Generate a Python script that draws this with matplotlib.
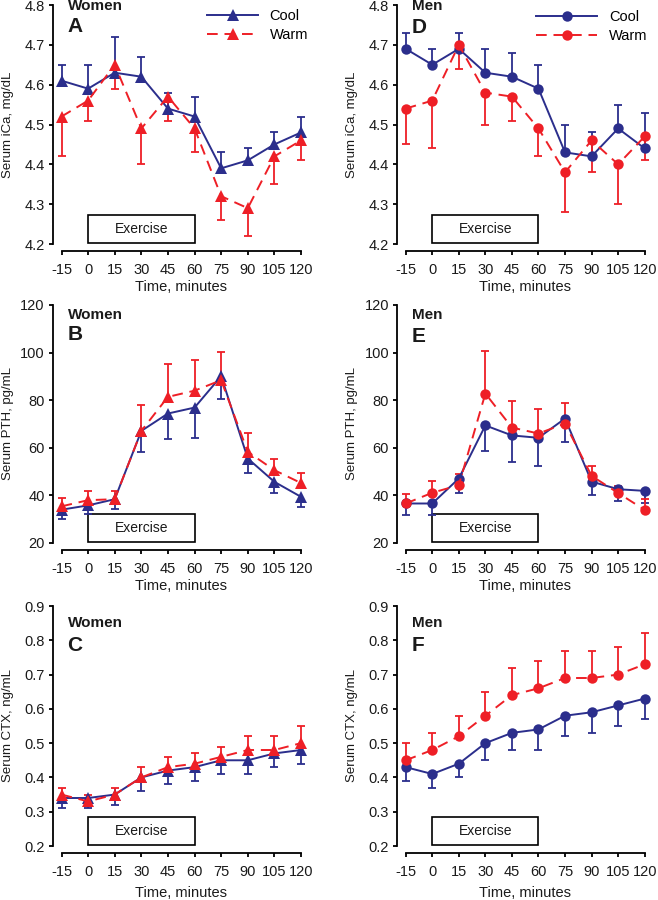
import matplotlib
matplotlib.use("Agg")
import matplotlib.pyplot as plt
from matplotlib.patches import Rectangle
import numpy as np

plt.rcParams['font.family'] = ['Liberation Sans', 'DejaVu Sans']

time = [-15, 0, 15, 30, 45, 60, 75, 90, 105, 120]
time_labels = ["-15", "0", "15", "30", "45", "60", "75", "90", "105", "120"]

# Panel A: Women, serum iCa
ica_w_cool = [4.61, 4.59, 4.63, 4.62, 4.54, 4.52, 4.39, 4.41, 4.45, 4.48]
ica_w_cool_se = [0.04, 0.06, 0.09, 0.05, 0.04, 0.05, 0.04, 0.03, 0.03, 0.04]
ica_w_warm = [4.52, 4.56, 4.65, 4.49, 4.57, 4.49, 4.32, 4.29, 4.42, 4.46]
ica_w_warm_se = [0.10, 0.05, 0.06, 0.09, 0.06, 0.06, 0.06, 0.07, 0.07, 0.05]

# Panel D: Men, serum iCa
ica_m_cool = [4.69, 4.65, 4.69, 4.63, 4.62, 4.59, 4.43, 4.42, 4.49, 4.44]
ica_m_cool_se = [0.04, 0.04, 0.04, 0.06, 0.06, 0.06, 0.07, 0.06, 0.06, 0.09]
ica_m_warm = [4.54, 4.56, 4.70, 4.58, 4.57, 4.49, 4.38, 4.46, 4.40, 4.47]
ica_m_warm_se = [0.09, 0.12, 0.06, 0.08, 0.06, 0.07, 0.10, 0.08, 0.10, 0.06]

# Panel B: Women, serum PTH
pth_w_cool = [34.0, 35.8, 38.4, 67.1, 74.4, 76.9, 90.1, 55.5, 45.7, 39.4]
pth_w_cool_se = [3.8, 3.5, 4.0, 8.8, 10.5, 12.6, 9.8, 5.9, 4.9, 4.3]
pth_w_warm = [35.4, 38.0, 38.4, 67.1, 81.4, 84.0, 88.4, 58.3, 50.6, 45.2]
pth_w_warm_se = [3.5, 3.7, 3.3, 10.8, 13.8, 13.1, 11.7, 8.0, 4.9, 4.4]

# Panel E: Men, serum PTH
pth_m_cool = [36.6, 36.6, 47.1, 69.4, 65.2, 64.2, 72.3, 45.8, 42.6, 41.9]
pth_m_cool_se = [4.7, 4.7, 6.1, 10.8, 11.1, 11.9, 9.9, 5.6, 4.8, 4.9]
pth_m_warm = [36.6, 41.1, 44.3, 82.8, 68.5, 66.0, 70.2, 48.2, 41.0, 33.9]
pth_m_warm_se = [4.1, 5.0, 4.9, 17.8, 11.1, 10.4, 8.7, 4.2, 3.0, 4.5]

# Panel C: Women, serum CTX
ctx_w_cool = [0.34, 0.34, 0.35, 0.40, 0.42, 0.43, 0.45, 0.45, 0.47, 0.48]
ctx_w_cool_se = [0.03, 0.03, 0.03, 0.04, 0.04, 0.04, 0.04, 0.04, 0.04, 0.04]
ctx_w_warm = [0.35, 0.33, 0.35, 0.40, 0.43, 0.44, 0.46, 0.48, 0.48, 0.50]
ctx_w_warm_se = [0.02, 0.02, 0.02, 0.03, 0.03, 0.03, 0.03, 0.04, 0.04, 0.05]

# Panel F: Men, serum CTX
ctx_m_cool = [0.43, 0.41, 0.44, 0.50, 0.53, 0.54, 0.58, 0.59, 0.61, 0.63]
ctx_m_cool_se = [0.04, 0.04, 0.04, 0.05, 0.05, 0.06, 0.06, 0.06, 0.06, 0.06]
ctx_m_warm = [0.45, 0.48, 0.52, 0.58, 0.64, 0.66, 0.69, 0.69, 0.70, 0.73]
ctx_m_warm_se = [0.05, 0.05, 0.06, 0.07, 0.08, 0.08, 0.08, 0.08, 0.08, 0.09]

ica_ticks = [4.2, 4.3, 4.4, 4.5, 4.6, 4.7, 4.8]
pth_ticks = [20, 40, 60, 80, 100, 120]
ctx_ticks = [0.2, 0.3, 0.4, 0.5, 0.6, 0.7, 0.8, 0.9]

BLUE = '#2b2e8c'
RED = '#ee1f26'
TXT = '#1a1a1a'

fig = plt.figure(figsize=(6.58, 9.0), dpi=100)

colL, wL = 61.5 / 658, 239.5 / 658
colR, wR = 405.7 / 658, 239.0 / 658
rows = [((900 - 244) / 900, 239 / 900),
        ((900 - 543) / 900, 238 / 900),
        ((900 - 846) / 900, 240 / 900)]

panels = [
    (0, 0, ica_w_cool, ica_w_cool_se, ica_w_warm, ica_w_warm_se, True, ica_ticks, "{:.1f}",
     "Serum iCa, mg/dL", "Women", "A", "^", 0.996, 0.908),
    (1, 0, ica_m_cool, ica_m_cool_se, ica_m_warm, ica_m_warm_se, True, ica_ticks, "{:.1f}",
     "Serum iCa, mg/dL", "Men", "D", "o", 0.996, 0.904),
    (0, 1, pth_w_cool, pth_w_cool_se, pth_w_warm, pth_w_warm_se, False, pth_ticks, "{:.0f}",
     "Serum PTH, pg/mL", "Women", "B", "^", 0.958, 0.874),
    (1, 1, pth_m_cool, pth_m_cool_se, pth_m_warm, pth_m_warm_se, False, pth_ticks, "{:.0f}",
     "Serum PTH, pg/mL", "Men", "E", "o", 0.958, 0.868),
    (0, 2, ctx_w_cool, ctx_w_cool_se, ctx_w_warm, ctx_w_warm_se, False, ctx_ticks, "{:.1f}",
     "Serum CTX, ng/mL", "Women", "C", "^", 0.929, 0.835),
    (1, 2, ctx_m_cool, ctx_m_cool_se, ctx_m_warm, ctx_m_warm_se, False, ctx_ticks, "{:.1f}",
     "Serum CTX, ng/mL", "Men", "F", "o", 0.929, 0.837),
]

for (col, row, cool, cool_se, warm, warm_se, cool_up, yt, fmt, ylab, sex, letter,
     mk, sex_y, letter_y) in panels:
    left = colL if col == 0 else colR
    width = wL if col == 0 else wR
    bottom, height = rows[row]
    ax = fig.add_axes([left, bottom, width, height])
    ax.set_xlim(time[0], time[-1])
    ax.set_ylim(yt[0], yt[-1])

    ms = 8.0 if mk == '^' else 7.5
    zeros = np.zeros(len(time))
    cool_se = np.array(cool_se)
    warm_se = np.array(warm_se)
    if cool_up:
        cerr = [zeros, cool_se]
        werr = [warm_se, zeros]
    else:
        cerr = [cool_se, zeros]
        werr = [zeros, warm_se]

    _, ccaps, cbars = ax.errorbar(time, cool, yerr=cerr, fmt='none', ecolor=BLUE,
                                  elinewidth=1.3, capsize=2.6, capthick=1.3,
                                  clip_on=False, zorder=2)
    ccaps[0 if cool_up else 1].set_visible(False)
    _, wcaps, wbars = ax.errorbar(time, warm, yerr=werr, fmt='none', ecolor=RED,
                                  elinewidth=1.3, capsize=2.6, capthick=1.3,
                                  clip_on=False, zorder=3)
    wcaps[1 if cool_up else 0].set_visible(False)
    for c in list(ccaps) + list(wcaps):
        c.set_clip_on(False)
    for b in list(cbars) + list(wbars):
        b.set_clip_on(False)

    lc, = ax.plot(time, cool, color=BLUE, lw=1.4, marker=mk, ms=ms,
                  markeredgewidth=0, clip_on=False, zorder=4, label="Cool")
    lw_, = ax.plot(time, warm, color=RED, lw=1.4, marker=mk, ms=ms,
                   markeredgewidth=0, linestyle=(0, (5.5, 3.5)), clip_on=False,
                   zorder=5, label="Warm")

    rect = Rectangle((0, 0.005), 60, 0.115, transform=ax.get_xaxis_transform(),
                     facecolor='white', edgecolor='black', lw=1.2, zorder=1,
                     clip_on=False)
    ax.add_patch(rect)
    ax.text(30, 0.0625, "Exercise", transform=ax.get_xaxis_transform(),
            ha='center', va='center', fontsize=10, color=TXT, zorder=1)

    for s in ['top', 'right']:
        ax.spines[s].set_visible(False)
    ax.spines['left'].set_position(('outward', 6))
    ax.spines['bottom'].set_position(('outward', 5))
    ax.spines['left'].set_bounds(yt[0], yt[-1])
    ax.spines['bottom'].set_bounds(time[0], time[-1])
    for s in ['left', 'bottom']:
        ax.spines[s].set_linewidth(1.3)
        ax.spines[s].set_color('black')

    ax.set_xticks(time)
    ax.set_xticklabels(time_labels)
    ax.set_yticks(yt)
    ax.set_yticklabels([fmt.format(v) for v in yt])
    ax.tick_params(axis='both', direction='out', length=3, width=1.3,
                   labelsize=10.5, labelcolor=TXT)
    ax.tick_params(axis='x', pad=6)
    ax.tick_params(axis='y', pad=3)

    ax.set_xlabel("Time, minutes", fontsize=10.5, color=TXT)
    ax.set_ylabel(ylab, fontsize=9.5, color=TXT)
    ax.xaxis.set_label_coords(0.5, -0.152 if row < 2 else -0.168)
    ax.yaxis.set_label_coords(-0.198, 0.5)

    ax.text(0.025, sex_y, sex, transform=ax.transAxes, ha='left', va='center',
            fontsize=11, fontweight='bold', color=TXT)
    ax.text(0.025, letter_y, letter, transform=ax.transAxes, ha='left',
            va='center', fontsize=15, fontweight='bold', color=TXT)

    if row == 0:
        if col == 0:
            ax.legend(handles=[lc, lw_], loc='upper left',
                      bbox_to_anchor=(0.6075, 0.982), borderaxespad=0,
                      borderpad=0, handlelength=3.5, handletextpad=0.8,
                      labelspacing=0.3, frameon=False, fontsize=10.5)
        else:
            ax.legend(handles=[lc, lw_], loc='upper left',
                      bbox_to_anchor=(0.545, 0.978), borderaxespad=0,
                      borderpad=0, handlelength=4.2, handletextpad=0.8,
                      labelspacing=0.3, frameon=False, fontsize=10.5)

fig.savefig("out.png", dpi=100)
